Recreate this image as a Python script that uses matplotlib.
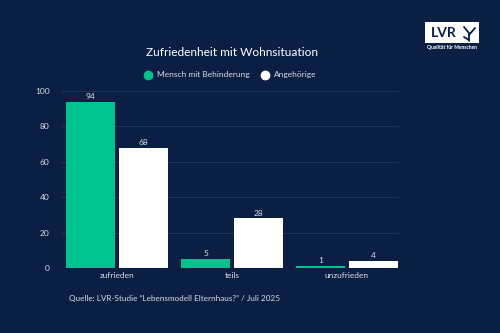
import matplotlib
matplotlib.use("Agg")
import matplotlib.pyplot as plt
import numpy as np
from matplotlib.patches import Rectangle
from matplotlib.lines import Line2D

categories = ["zufrieden", "teils", "unzufrieden"]
series_names = ["Mensch mit Behinderung", "Angehörige"]
mensch = [94, 5, 1]
angehoerige = [68, 28, 4]
yticks = [0, 20, 40, 60, 80, 100]

BG = "#0b1f44"
GREEN = "#00c38e"
WHITE = "#ffffff"
GRID = "#1c3258"
TXT = "#d9dde4"

plt.rcParams['font.family'] = ['Lato', 'DejaVu Sans']

fig = plt.figure(figsize=(5, 3.33), dpi=100, facecolor=BG)
ax = fig.add_axes([62/500, 1-268/333, (399-62)/500, (268-91)/333])
ax.set_facecolor(BG)

x = np.arange(len(categories))
w = 0.426
off = 0.23
for vals, color, sign in [(mensch, GREEN, -1), (angehoerige, WHITE, 1)]:
    bars = ax.bar(x + sign*off, vals, width=w, color=color, zorder=3)
    for b, v in zip(bars, vals):
        ax.text(b.get_x()+b.get_width()/2, v+1.0, str(v), ha='center', va='bottom',
                fontsize=6, color=TXT)

ax.set_xlim(-0.478, 2.452)
ax.set_ylim(0, 100)
ax.set_yticks(yticks)
ax.yaxis.grid(True, color=GRID, linewidth=0.8, zorder=0)
ax.set_xticks(x)
ax.set_xticklabels(categories)
ax.tick_params(axis='both', length=0, colors=TXT, labelsize=6)
ax.tick_params(axis='x', pad=3)
ax.tick_params(axis='y', pad=9)
for s in ax.spines.values():
    s.set_visible(False)
ax.axhline(0, color="#3a4e70", linewidth=0.8, zorder=4)

fig.text(0.465, 1-52/333, "Zufriedenheit mit Wohnsituation", ha='center', va='center',
         fontsize=8.6, color=WHITE)

# legend
ly = 1-75/333
fig.add_artist(Line2D([148/500], [ly], marker='o', markersize=6, color=GREEN,
                      linestyle='none', transform=fig.transFigure))
fig.text(157/500, ly, series_names[0], ha='left', va='center', fontsize=6, color=TXT)
fig.add_artist(Line2D([265/500], [ly], marker='o', markersize=6, color=WHITE,
                      linestyle='none', transform=fig.transFigure))
fig.text(274/500, ly, series_names[1], ha='left', va='center', fontsize=6, color=TXT)

fig.text(69/500, 1-299/333, "Quelle: LVR-Studie “Lebensmodell Elternhaus?” / Juli 2025",
         ha='left', va='center', fontsize=5.9, color=TXT)

# logo
fig.patches.append(Rectangle((425/500, 1-43/333), 54/500, 21/333, transform=fig.transFigure,
                             facecolor=WHITE, edgecolor='none'))
fig.text(444/500, 1-33/333, "LVR", ha='center', va='center', fontsize=10,
         fontweight='bold', color=BG)
def px(xp, yp):
    return xp/500, 1-yp/333
for seg in [((469, 41), (469, 33)), ((469, 33), (464, 27)), ((469, 35), (475, 28)),
            ((464, 37), (469, 40))]:
    (x0, y0), (x1, y1) = seg
    a, b = px(x0, y0); c, d = px(x1, y1)
    fig.add_artist(Line2D([a, c], [b, d], color=BG, linewidth=1.3,
                          transform=fig.transFigure, solid_capstyle='round'))
fig.text(452/500, 1-47/333, "Qualität für Menschen", ha='center', va='center',
         fontsize=3.6, fontweight='bold', color=WHITE)

fig.savefig("out.png", dpi=100, facecolor=BG)
